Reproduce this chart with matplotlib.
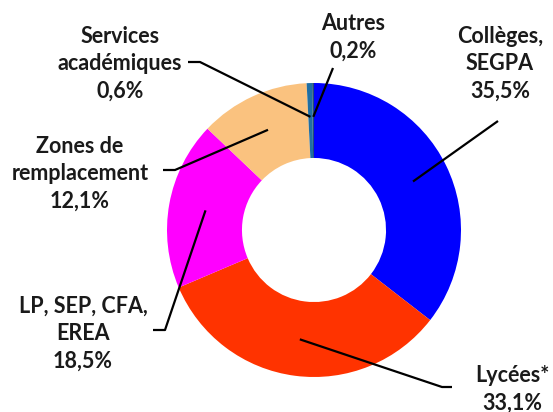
import matplotlib
matplotlib.use("Agg")
import matplotlib.pyplot as plt
import numpy as np

labels = ["Collèges,\nSEGPA", "Lycées*", "LP, SEP, CFA,\nEREA", "Zones de\nremplacement",
          "Services\nacadémiques", "Autres"]
values = [35.5, 33.1, 18.5, 12.1, 0.6, 0.2]
pct_labels = ["35,5%", "33,1%", "18,5%", "12,1%", "0,6%", "0,2%"]
colors = ["#0000FF", "#FF3300", "#FF00FF", "#FAC27F", "#1F6EA3", "#1F4E79"]

W, H = 553, 412
cx, cy, R = 314, 230, 147

fig = plt.figure(figsize=(W / 100, H / 100), dpi=100)
ax = fig.add_axes([0, 0, 1, 1])

wedges, _ = ax.pie(values, colors=colors, startangle=90, counterclock=False,
                   radius=1.0, wedgeprops=dict(width=0.51, linewidth=0))
ax.set_xlim(-cx / R, (W - cx) / R)
ax.set_ylim(-(H - cy) / R, cy / R)
ax.set_aspect("equal")
ax.axis("off")

def px(x, y):
    return ((x - cx) / R, (cy - y) / R)

# text centres (pixel) and leader elbow points
text_pos = [(500, 64), (512, 389), (83, 334), (80, 174), (120, 64), (353, 37)]
elbow = [None, (442, 387), (165, 330), (175, 170), (200, 62), (333, 68)]
elbow_end = [None, (452, 387), (153, 330), (163, 170), (188, 62), None]
line_end = [(498, 121), None, None, None, None, None]
anchor_r = [0.75, 0.75, 0.75, 0.75, 0.77, 0.77]

fp = dict(family=["Lato", "DejaVu Sans"], weight="bold", fontsize=15.5, color="#1a1a1a")

cum = 0.0
for i, w in enumerate(wedges):
    frac = values[i] / sum(values)
    mid = 90 - 360 * (cum + frac / 2)
    cum += frac
    th = np.deg2rad(mid)
    ax_, ay_ = anchor_r[i] * np.cos(th), anchor_r[i] * np.sin(th)
    pts = [(ax_, ay_)]
    if line_end[i] is not None:
        pts.append(px(*line_end[i]))
    if elbow[i] is not None:
        pts.append(px(*elbow[i]))
    if elbow_end[i] is not None:
        pts.append(px(*elbow_end[i]))
    xs, ys = zip(*pts)
    ax.plot(xs, ys, color="black", lw=1.6, solid_capstyle="butt")
    tx, ty = px(*text_pos[i])
    ax.text(tx, ty, labels[i] + "\n" + pct_labels[i], ha="center", va="center",
            linespacing=1.38, **fp)

fig.savefig("out.png", dpi=100)
